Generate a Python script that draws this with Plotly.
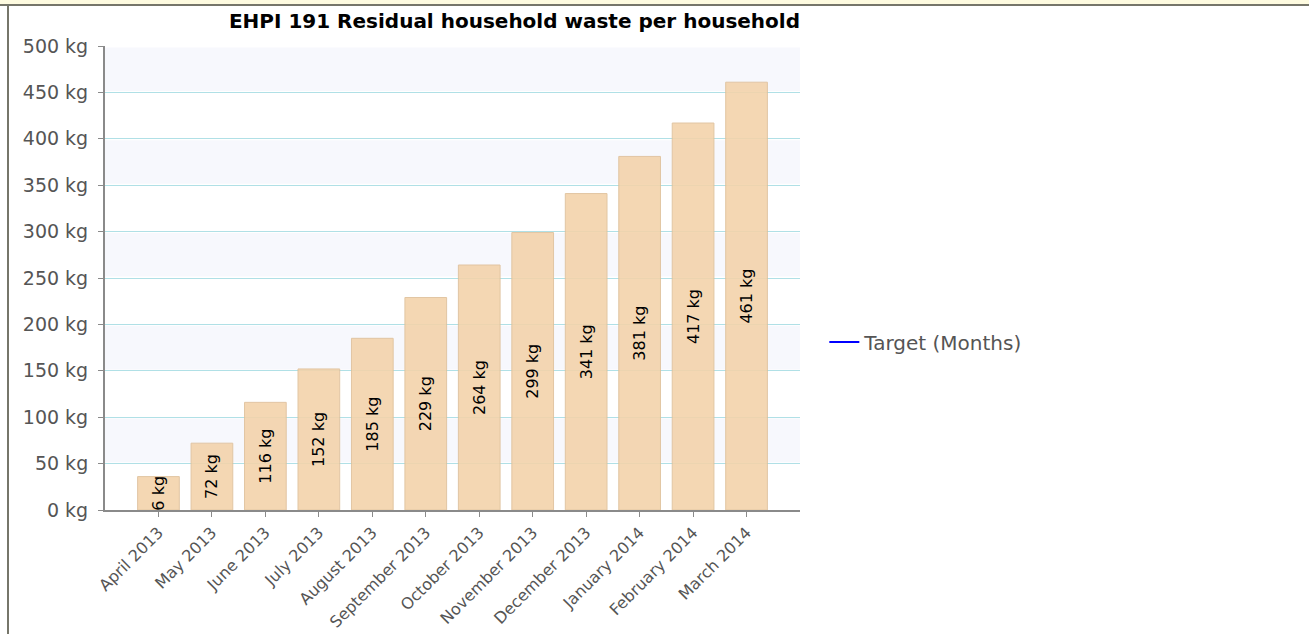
"""
EHPI 191 residual household waste per household - bar chart
"""

import plotly.graph_objects as go

# data
months = ['April 2013', 'May 2013', 'June 2013', 'July 2013', 'August 2013',
          'September 2013', 'October 2013', 'November 2013', 'December 2013',
          'January 2014', 'February 2014', 'March 2014']
waste_kg = [36, 72, 116, 152, 185, 229, 264, 299, 341, 381, 417, 461]
# bar labels as they appear (first one is cut off in the original)
bar_labels = ['6 kg', '72 kg', '116 kg', '152 kg', '185 kg', '229 kg', '264 kg',
              '299 kg', '341 kg', '381 kg', '417 kg', '461 kg']
y_ticks = [0, 50, 100, 150, 200, 250, 300, 350, 400, 450, 500]
y_tick_labels = [f'{v} kg' for v in y_ticks]

W, H = 1309, 634
L, R, T, B = 105, 800, 46, 510   # plot area in pixels

FONT = 'DejaVu Sans'
GREY = '#555555'


def px_x(p):
    return (p - L) / (R - L)


def px_y(p):
    return (B - p) / (B - T)


fig = go.Figure()

fig.add_trace(go.Bar(
    x=list(range(len(months))),
    y=waste_kg,
    width=0.78,
    marker=dict(color='#f3d3ab', opacity=0.9,
                line=dict(color='#dfc09a', width=1)),
    text=bar_labels,
    textposition='inside',
    insidetextanchor='middle',
    textangle=-90,
    textfont=dict(family=FONT, size=16, color='black'),
    showlegend=False,
    hovertemplate='<b>%{customdata}</b><br>%{y} kg<extra></extra>',
    customdata=months,
))

# empty target series, only shown in the legend
fig.add_trace(go.Scatter(
    x=[None], y=[None],
    mode='lines',
    line=dict(color='#0000ff', width=2),
    name='Target (Months)',
))

shapes = []
# alternating background bands (kept just inside the gridlines)
for lo in y_ticks[1:-1:2]:
    shapes.append(dict(type='rect', xref='paper', yref='y', x0=0, x1=1,
                       y0=lo + 1.5, y1=lo + 48.5, fillcolor='#f7f8fd',
                       line=dict(width=0), layer='below'))

# frame around the widget
shapes.append(dict(type='rect', xref='paper', yref='paper',
                   x0=px_x(0), x1=px_x(W), y0=px_y(0), y1=px_y(4),
                   fillcolor='#fefbe0', line=dict(width=0), layer='below'))
shapes.append(dict(type='line', xref='paper', yref='paper',
                   x0=px_x(0), x1=px_x(W), y0=px_y(5), y1=px_y(5),
                   line=dict(color='#76766a', width=2)))
shapes.append(dict(type='line', xref='paper', yref='paper',
                   x0=px_x(8), x1=px_x(8), y0=px_y(5), y1=px_y(H),
                   line=dict(color='#76766a', width=2)))

fig.update_layout(
    width=W, height=H,
    autosize=False,
    margin=dict(l=L, r=W - R, t=T, b=H - B),
    paper_bgcolor='white',
    plot_bgcolor='white',
    font=dict(family=FONT, size=17, color=GREY),
    title=dict(
        text='<b>EHPI 191 Residual household waste per household</b>',
        font=dict(family=FONT, size=20, color='black'),
        x=R / W, xanchor='right',
        y=1 - 21 / H, yanchor='middle',
    ),
    bargap=0.2,
    uniformtext=dict(minsize=16, mode='show'),
    showlegend=True,
    legend=dict(
        x=1.035, xanchor='left',
        y=px_y(342), yanchor='middle',
        font=dict(family=FONT, size=20, color=GREY),
        bgcolor='rgba(0,0,0,0)',
    ),
    shapes=shapes,
)

fig.update_xaxes(
    range=[-1, 12],
    tickmode='array',
    tickvals=list(range(len(months))),
    ticktext=months,
    tickangle=-45,
    automargin=False,
    showgrid=False,
    showline=True, linecolor='#8a8a8a', linewidth=2,
    ticks='outside', ticklen=5, tickcolor='#8a8a8a',
    tickfont=dict(family=FONT, size=16, color=GREY),
    zeroline=False,
)

fig.update_yaxes(
    range=[0, 500],
    tickmode='array',
    tickvals=y_ticks,
    ticktext=y_tick_labels,
    automargin=False,
    ticklabelstandoff=6,
    showgrid=True, gridcolor='#b0e0e6', gridwidth=1,
    showline=True, linecolor='#8a8a8a', linewidth=2,
    ticks='outside', ticklen=5, tickcolor='#8a8a8a',
    tickfont=dict(family=FONT, size=19, color=GREY),
    zeroline=False,
)

# drop the page margin so the figure sits at the window's top-left corner
fig.write_html(
    "out.html",
    config={'responsive': False, 'displayModeBar': False},
    post_script="document.body.style.margin='0';document.body.style.overflow='hidden';",
)
